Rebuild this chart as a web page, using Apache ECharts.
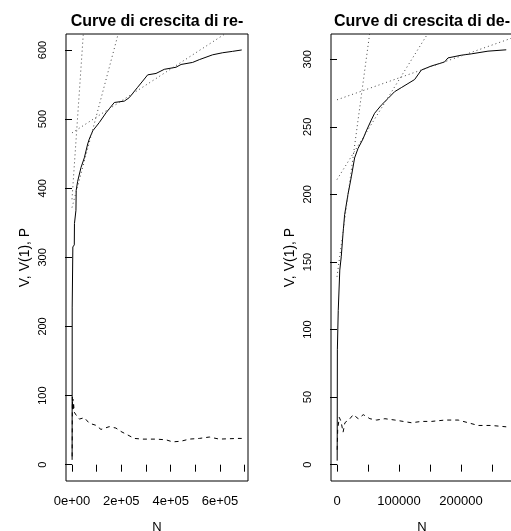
<!DOCTYPE html>
<html>
<head>
<meta charset="utf-8">
<script src="https://cdn.jsdelivr.net/npm/echarts@6/dist/echarts.min.js"></script>
<style>
html,body{margin:0;padding:0;background:#fff;}
#chart{width:511px;height:531px;}
</style>
</head>
<body>
<div id="chart"></div>
<script>
// ---- Data ----
const titles = ['Curve di crescita di re-', 'Curve di crescita di de-'];
const xTitle = 'N';
const yTitle = 'V, V(1), P';

// Left panel: growth curve V (solid)
const leftVN = [500, 800, 2800, 3500, 9300, 10000, 16000, 17000, 23000, 36500, 50000, 63600, 70000, 84000, 110600, 137800, 171500, 212000, 232000, 266000, 286600, 306800, 340500, 374000, 421600, 442000, 489000, 516000, 570000, 611000, 651000, 688000];
const leftV  = [7, 228, 230, 315, 318, 349, 368, 397, 410, 430, 444, 464, 471, 483, 495, 509, 524, 526, 531, 546, 555, 564, 566, 572, 575, 579, 582, 586, 593, 596, 598, 600];
// Left panel: dashed curve
const leftPN = [600, 1000, 1500, 2500, 3500, 4500, 6000, 9300, 16200, 29700, 50000, 70000, 97000, 117500, 151000, 178000, 198600, 225800, 252500, 286600, 340500, 381000, 408000, 442000, 475500, 516000, 556500, 597000, 671700, 688000];
const leftP  = [12, 40, 98, 80, 95, 78, 90, 76, 72, 66, 68, 60, 57, 51, 55, 53, 48, 43, 38, 37, 37, 36, 33, 34, 37, 38, 40, 37, 38, 38];
// Left panel: dotted straight lines (start N, start V, end N, end V)
const leftLineA = [0, 384, 45800, 623];
const leftLineB = [0, 372, 187000, 623];
const leftLineC = [0, 480, 619000, 623];

// Right panel: growth curve V (solid)
const rightVN = [300, 600, 1600, 2000, 4200, 4500, 6900, 9700, 12300, 17700, 23100, 28400, 33900, 41900, 47300, 55300, 60600, 71400, 82300, 92900, 103700, 114500, 125200, 136000, 152100, 173500, 179000, 200500, 216600, 243500, 273000];
const rightV  = [3, 85, 85, 114, 114, 144, 154, 171, 185, 200, 213, 227, 234, 241, 247, 255, 260, 266, 271, 276, 279, 282, 285, 292, 295, 298, 301, 303, 304, 306, 307];
// Right panel: dashed curve
const rightPN = [300, 1100, 3700, 6500, 9800, 12700, 20800, 26200, 34300, 42400, 53100, 63900, 77300, 93400, 106800, 120300, 136400, 152500, 174000, 195500, 211600, 227700, 249200, 273000];
const rightP  = [11, 26, 35, 32, 24, 31, 34, 37, 34, 37, 34, 33, 34, 33, 32, 31, 32, 32, 33, 33, 31, 29, 29, 28];
// Right panel: dotted straight lines
const rightLineA = [0, 139, 52600, 318.7];
const rightLineB = [0, 211, 146000, 318.7];
const rightLineC = [0, 270, 283900, 316];

// Tick values and labels
const leftXTicks = [0, 100000, 200000, 300000, 400000, 500000, 600000, 700000];
const leftXLabelVals = [0, 200000, 400000, 600000];
const leftXLabels = ['0e+00', '2e+05', '4e+05', '6e+05'];
const leftYTicks = [0, 100, 200, 300, 400, 500, 600];
const rightXTicks = [0, 50000, 100000, 150000, 200000, 250000];
const rightXLabelVals = [0, 100000, 200000];
const rightXLabels = ['0', '100000', '200000'];
const rightYTicks = [0, 50, 100, 150, 200, 250, 300];

// ---- Chart ----
const FONT = 'Liberation Sans, Arial, Helvetica, sans-serif';
const zip = (a, b) => a.map((v, i) => [v, b[i]]);
const seg = s => [[s[0], s[1]], [s[2], s[3]]];

function xAxis(gridIndex, min, max, ticks, labelVals, labels) {
  return {
    type: 'value', gridIndex, min, max,
    name: xTitle, nameLocation: 'middle', nameGap: 40,
    nameTextStyle: {color: '#000', fontFamily: FONT, fontSize: 13},
    splitLine: {show: false},
    axisLine: {show: false},
    axisTick: {show: true, inside: false, length: 7, customValues: ticks, lineStyle: {color: '#000', width: 1}},
    axisLabel: {show: true, customValues: labelVals, margin: 14, color: '#000', fontFamily: FONT, fontSize: 13,
      formatter: v => { const i = labelVals.indexOf(v); return i >= 0 ? labels[i] : ''; }}
  };
}
function yAxis(gridIndex, min, max, ticks) {
  return {
    type: 'value', gridIndex, min, max,
    name: yTitle, nameLocation: 'middle', nameGap: 34, nameRotate: 90,
    nameTextStyle: {color: '#000', fontFamily: FONT, fontSize: 14},
    splitLine: {show: false},
    axisLine: {show: false},
    axisTick: {show: true, inside: false, length: 7, customValues: ticks, lineStyle: {color: '#000', width: 1}},
    axisLabel: {show: true, customValues: ticks, rotate: 90, margin: 18, color: '#000', fontFamily: FONT, fontSize: 11}
  };
}
function lineSeries(idx, data, type, color) {
  return {
    type: 'line', xAxisIndex: idx, yAxisIndex: idx, data,
    showSymbol: false, symbol: 'none', animation: false, clip: true,
    lineStyle: {color, width: 1, type}
  };
}

const chart = echarts.init(document.getElementById('chart'), null, {renderer: 'canvas'});
chart.setOption({
  animation: false,
  backgroundColor: '#fff',
  grid: [
    {left: 66, top: 34, width: 182, height: 447, show: true, borderColor: '#000', borderWidth: 1, backgroundColor: 'transparent', containLabel: false, outerBoundsMode: 'none'},
    {left: 331, top: 34, width: 182, height: 447, show: true, borderColor: '#000', borderWidth: 1, backgroundColor: 'transparent', containLabel: false, outerBoundsMode: 'none'}
  ],
  xAxis: [
    xAxis(0, -24300, 713400, leftXTicks, leftXLabelVals, leftXLabels),
    xAxis(1, -9680, 283900, rightXTicks, rightXLabelVals, rightXLabels)
  ],
  yAxis: [
    yAxis(0, -23.6, 623.1, leftYTicks),
    yAxis(1, -12.1, 318.7, rightYTicks)
  ],
  graphic: [
    {type: 'text', x: 157, y: 22, style: {text: titles[0], fill: '#000', font: 'bold 16px ' + FONT, textAlign: 'center', textVerticalAlign: 'middle'}},
    {type: 'text', x: 422, y: 22, style: {text: titles[1], fill: '#000', font: 'bold 16px ' + FONT, textAlign: 'center', textVerticalAlign: 'middle'}}
  ],
  series: [
    lineSeries(0, zip(leftVN, leftV), 'solid', '#000'),
    lineSeries(0, zip(leftPN, leftP), [4, 4], '#000'),
    lineSeries(0, seg(leftLineA), [1, 3], '#444'),
    lineSeries(0, seg(leftLineB), [1, 3], '#444'),
    lineSeries(0, seg(leftLineC), [1, 3], '#444'),
    lineSeries(1, zip(rightVN, rightV), 'solid', '#000'),
    lineSeries(1, zip(rightPN, rightP), [4, 4], '#000'),
    lineSeries(1, seg(rightLineA), [1, 3], '#444'),
    lineSeries(1, seg(rightLineB), [1, 3], '#444'),
    lineSeries(1, seg(rightLineC), [1, 3], '#444')
  ]
});
</script>
</body>
</html>
